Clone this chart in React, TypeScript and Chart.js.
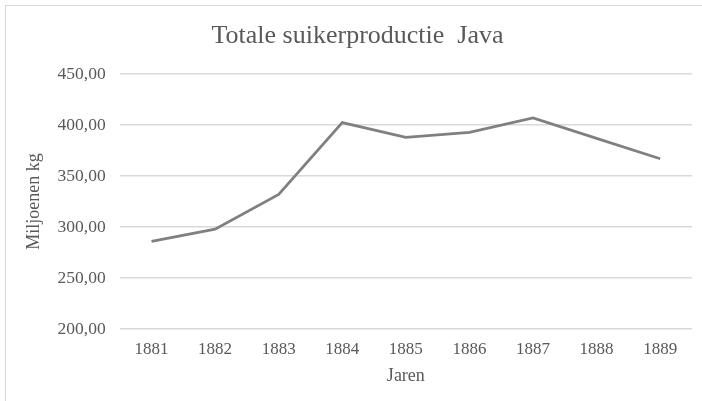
import React, { useEffect, useRef } from "react";
import { Chart, registerables } from "chart.js";

Chart.register(...registerables);

const years = ["1881", "1882", "1883", "1884", "1885", "1886", "1887", "1888", "1889"];
const production = [286, 298, 332, 402.5, 388, 393, 407, 387, 367];
const yMin = 200;
const yMax = 450;
const yStep = 50;

const FONT = "'Liberation Serif', 'Times New Roman', serif";
const TEXT = "#595959";

export default function App() {
  const ref = useRef<HTMLCanvasElement | null>(null);

  useEffect(() => {
    document.body.style.margin = "0";
    document.body.style.overflow = "hidden";
    const chart = new Chart(ref.current!, {
      type: "line",
      data: {
        labels: years,
        datasets: [
          {
            data: production,
            borderColor: "#808080",
            borderWidth: 2.75,
            pointRadius: 0,
            tension: 0,
            fill: false,
          },
        ],
      },
      options: {
        animation: false,
        responsive: false,
        maintainAspectRatio: false,
        layout: { padding: { top: 0, left: 17, right: 24, bottom: 29 } },
        plugins: {
          legend: { display: false },
          tooltip: { enabled: false },
          title: {
            display: true,
            text: "Totale suikerproductie  Java",
            color: TEXT,
            font: { family: FONT, size: 26, weight: "normal" },
            padding: { top: 15, bottom: 22 },
          },
        },
        scales: {
          x: {
            offset: true,
            grid: { display: false, drawTicks: false },
            border: { display: false },
            ticks: {
              color: TEXT,
              font: { family: FONT, size: 17 },
              padding: 10,
              maxRotation: 0,
            },
            title: {
              display: true,
              text: "Jaren",
              color: TEXT,
              font: { family: FONT, size: 18 },
              padding: { top: -4, bottom: 0 },
            },
          },
          y: {
            min: yMin,
            max: yMax,
            grid: { color: "#d9d9d9", lineWidth: 1.5, drawTicks: false },
            border: { display: false },
            ticks: {
              stepSize: yStep,
              color: TEXT,
              font: { family: FONT, size: 17.5 },
              padding: 14,
              callback: (v: any) => Number(v).toFixed(2).replace(".", ","),
            },
            title: {
              display: true,
              text: "Miljoenen kg",
              color: TEXT,
              font: { family: FONT, size: 18 },
              padding: { top: 0, bottom: -1 },
            },
          },
        },
      },
    });
    return () => chart.destroy();
  }, []);

  return (
    <div
      style={{
        position: "fixed",
        left: 5,
        top: 5,
        width: 710,
        height: 410,
        border: "1.5px solid #d9d9d9",
        background: "#fff",
      }}
    >
      <canvas ref={ref} width={710} height={410} style={{ display: "block", width: 710, height: 410 }} />
    </div>
  );
}
